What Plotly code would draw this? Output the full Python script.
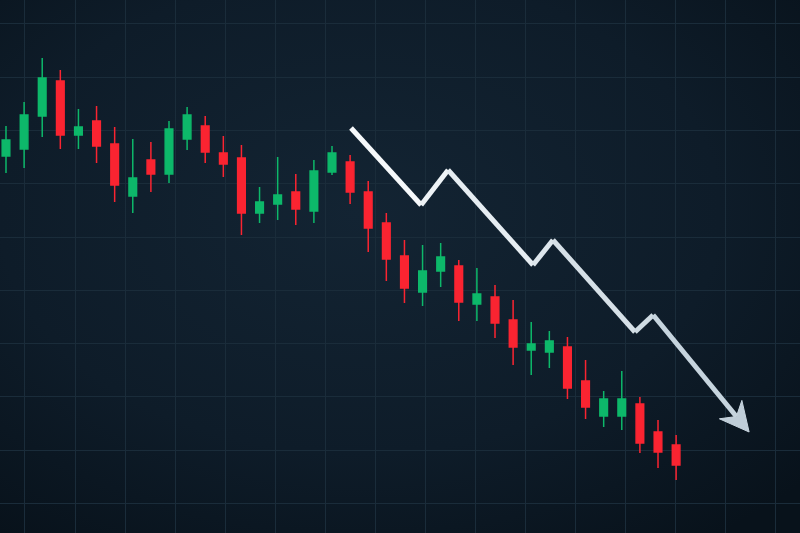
import base64
import plotly.graph_objects as go

# candle index (one per session)
day = list(range(38))

# OHLC (arbitrary price units)
open_ = [377, 384, 417, 452, 398, 412, 389, 337, 373, 359, 394, 407, 380, 375, 320, 329, 341, 322, 361,
         371, 341, 310, 277, 241, 262, 267, 229, 236, 213, 183, 181, 186, 152, 117, 117, 129, 101, 88]
high = [407, 431, 475, 463, 424, 427, 406, 394, 391, 412, 426, 417, 397, 388, 346, 376, 359, 373, 387,
        378, 352, 320, 293, 288, 290, 273, 265, 248, 233, 211, 202, 196, 173, 142, 162, 136, 113, 98]
low = [360, 365, 396, 384, 384, 370, 331, 320, 341, 350, 383, 370, 356, 298, 310, 313, 308, 310, 358,
       329, 281, 252, 230, 227, 246, 212, 212, 195, 168, 158, 165, 134, 114, 106, 103, 80, 65, 53]
close = [393, 418, 455, 398, 406, 387, 348, 355, 359, 404, 418, 381, 369, 320, 331, 338, 324, 362, 380,
         341, 305, 274, 245, 262, 276, 231, 239, 210, 186, 189, 192, 145, 126, 134, 134, 90, 81, 68]

# downtrend arrow drawn over the chart
trend_x = [19.05, 22.92, 24.41, 29.10, 30.20, 34.73, 35.73, 40.33]
trend_y = [405, 328, 363, 268, 293, 201, 218, 116.5]
trend_colors = ["#f6f9fb", "#eef3f6", "#e6edf2", "#dde6ec", "#d6e0e7", "#cfdbe3", "#c6d4de"]
head_x = [41.03, 39.39, 40.33, 40.63, 41.03]
head_y = [101, 114.2, 116.5, 132.6, 101]

# soft vignette for the background
svg = (
    '<svg xmlns="http://www.w3.org/2000/svg" width="800" height="533">'
    '<defs><radialGradient id="g" cx="45%" cy="40%" r="75%">'
    '<stop offset="0%" stop-color="#132433"/>'
    '<stop offset="60%" stop-color="#0e1c29"/>'
    '<stop offset="100%" stop-color="#08121b"/>'
    '</radialGradient></defs>'
    '<rect width="800" height="533" fill="url(#g)"/></svg>'
)
bg_src = "data:image/svg+xml;base64," + base64.b64encode(svg.encode()).decode()

fig = go.Figure()

fig.add_trace(
    go.Candlestick(
        x=day,
        open=open_,
        high=high,
        low=low,
        close=close,
        increasing=dict(line=dict(color="#0db86a", width=1.5), fillcolor="#0db86a"),
        decreasing=dict(line=dict(color="#fa2431", width=1.5), fillcolor="#fa2431"),
        whiskerwidth=0,
        showlegend=False,
        hoverinfo="skip",
    )
)

for i in range(len(trend_x) - 1):
    fig.add_trace(
        go.Scatter(
            x=trend_x[i:i + 2],
            y=trend_y[i:i + 2],
            mode="lines",
            line=dict(color=trend_colors[i], width=5),
            showlegend=False,
            hoverinfo="skip",
        )
    )

fig.add_trace(
    go.Scatter(
        x=head_x,
        y=head_y,
        mode="lines",
        fill="toself",
        fillcolor="#bfcdd8",
        line=dict(color="#c8d5df", width=1),
        showlegend=False,
        hoverinfo="skip",
    )
)

grid = "#1a2c3a"
fig.update_layout(
    width=800,
    height=533,
    margin=dict(l=0, r=0, t=0, b=0),
    paper_bgcolor="#0d1a26",
    plot_bgcolor="rgba(0,0,0,0)",
    boxgap=0.4,
    images=[
        dict(
            source=bg_src,
            xref="paper",
            yref="paper",
            x=0,
            y=1,
            sizex=1,
            sizey=1,
            sizing="stretch",
            layer="below",
        )
    ],
    xaxis=dict(
        range=[-0.331, 43.84],
        rangeslider=dict(visible=False),
        showticklabels=False,
        zeroline=False,
        showgrid=True,
        gridcolor=grid,
        gridwidth=1,
        tick0=1.049,
        dtick=2.761,
    ),
    yaxis=dict(
        range=[0, 533],
        showticklabels=False,
        zeroline=False,
        showgrid=True,
        gridcolor=grid,
        gridwidth=1,
        tick0=29.5,
        dtick=53.3,
    ),
)

# page body has a default 8px margin; drop it so the chart fills the window
fig.write_html(
    "out.html",
    config={"displayModeBar": False},
    post_script="document.body.style.margin='0';document.body.style.overflow='hidden';",
)
